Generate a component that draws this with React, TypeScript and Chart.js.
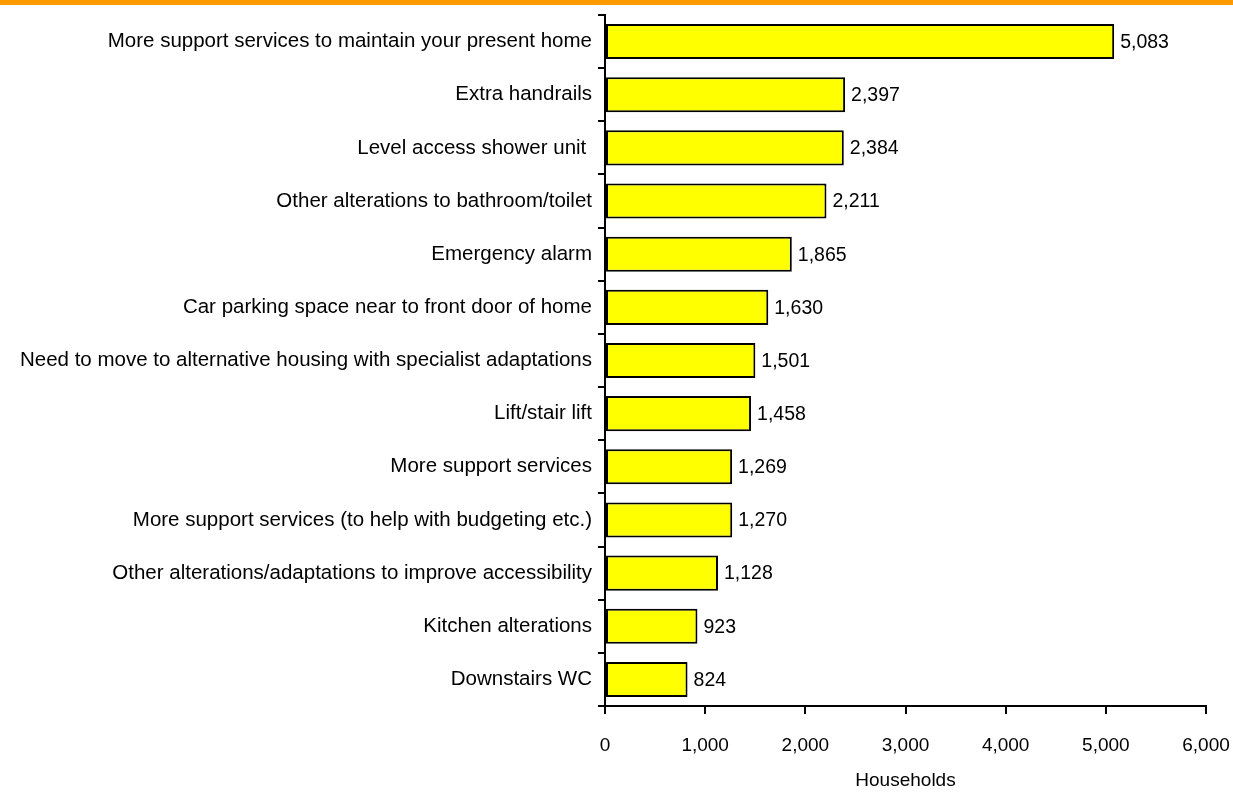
import React, { useEffect, useRef } from "react";
import { Chart, registerables } from "chart.js";

Chart.register(...registerables);

const categories = [
  "More support services to maintain your present home",
  "Extra handrails",
  "Level access shower unit ",
  "Other alterations to bathroom/toilet",
  "Emergency alarm",
  "Car parking space near to front door of home",
  "Need to move to alternative housing with specialist adaptations",
  "Lift/stair lift",
  "More support services",
  "More support services (to help with budgeting etc.)",
  "Other alterations/adaptations to improve accessibility",
  "Kitchen alterations",
  "Downstairs WC",
];

const households = [5083, 2397, 2384, 2211, 1865, 1630, 1501, 1458, 1269, 1270, 1128, 923, 824];

const xTickValues = [0, 1000, 2000, 3000, 4000, 5000, 6000];

const FONT = "'Liberation Sans', Arial, sans-serif";

const fmt = (v: number) => v.toLocaleString("en-US");

const decorPlugin = {
  id: "decor",
  beforeDraw(chart: any) {
    const ctx = chart.ctx;
    ctx.save();
    ctx.fillStyle = "#FFFFFF";
    ctx.fillRect(0, 0, chart.width, chart.height);
    ctx.fillStyle = "#FF9900";
    ctx.fillRect(0, 0, chart.width, 5);
    ctx.restore();
  },
  afterDatasetsDraw(chart: any) {
    const ctx = chart.ctx;
    const meta = chart.getDatasetMeta(0);
    ctx.save();
    ctx.font = `19.5px ${FONT}`;
    ctx.fillStyle = "#000";
    ctx.textAlign = "left";
    ctx.textBaseline = "middle";
    meta.data.forEach((bar: any, i: number) => {
      ctx.fillText(fmt(households[i]), bar.x + 6, bar.y + 1);
    });
    ctx.restore();
  },
};

export default function App() {
  const ref = useRef<HTMLCanvasElement>(null);
  useEffect(() => {
    const chart = new Chart(ref.current!, {
      type: "bar",
      data: {
        labels: categories,
        datasets: [
          {
            data: households,
            backgroundColor: "#FFFF00",
            borderColor: "#000000",
            borderWidth: 2,
            borderSkipped: false,
            barPercentage: 0.66,
            categoryPercentage: 1,
          },
        ],
      },
      options: {
        indexAxis: "y",
        animation: false,
        responsive: false,
        maintainAspectRatio: false,
        layout: { padding: { top: 15, right: 27, left: 0, bottom: 0 } },
        plugins: {
          legend: { display: false },
          tooltip: { enabled: false },
        },
        scales: {
          x: {
            min: 0,
            max: 6000,
            afterBuildTicks: (scale: any) => {
              scale.ticks = xTickValues.map((v) => ({ value: v }));
            },
            afterFit: (scale: any) => {
              scale.height = 86;
              scale.paddingLeft = 0;
              scale.paddingRight = 0;
            },
            ticks: {
              color: "#000",
              font: { family: FONT, size: 19 },
              padding: 20,
              callback: (v: any) => fmt(Number(v)),
              maxRotation: 0,
            },
            grid: {
              drawOnChartArea: false,
              drawTicks: true,
              tickLength: 8,
              color: "#000",
              lineWidth: 2,
            },
            border: { color: "#000", width: 2 },
            title: {
              display: true,
              text: "Households",
              color: "#000",
              font: { family: FONT, size: 19 },
              padding: { top: 6, bottom: 0 },
            },
          },
          y: {
            afterFit: (scale: any) => {
              scale.width = 605;
              scale.paddingTop = 0;
              scale.paddingBottom = 0;
            },
            ticks: {
              color: "#000",
              font: { family: FONT, size: 20.5 },
              padding: 6,
              autoSkip: false,
            },
            grid: {
              drawOnChartArea: false,
              drawTicks: true,
              tickLength: 7,
              offset: true,
              color: "#000",
              lineWidth: 2,
            },
            border: { color: "#000", width: 2 },
          },
        },
      },
      plugins: [decorPlugin],
    });
    return () => chart.destroy();
  }, []);

  return (
    <div style={{ position: "fixed", left: 0, top: 0, width: 1233, height: 792, background: "#fff" }}>
      <canvas ref={ref} width={1233} height={792} style={{ width: 1233, height: 792, display: "block" }} />
    </div>
  );
}
